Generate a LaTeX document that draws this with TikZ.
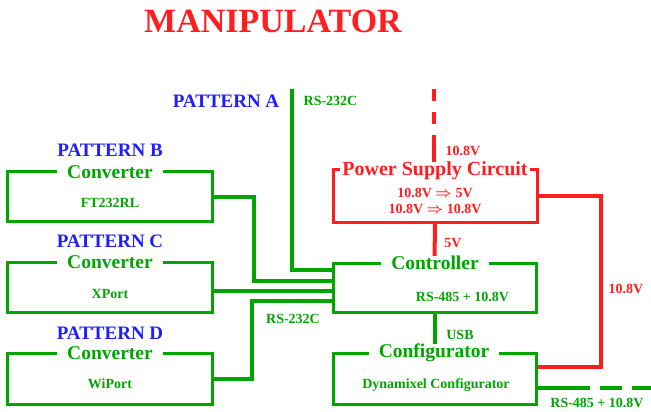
\documentclass[tikz,border=0pt]{standalone}
\usepackage{fontspec}
\setmainfont{Liberation Serif}
\usetikzlibrary{positioning}
\definecolor{wgreen}{RGB}{0,165,0}
\definecolor{wred}{RGB}{255,30,30}
\definecolor{wblue}{RGB}{30,30,255}

\begin{document}
\begin{tikzpicture}[
    x=1pt, y=-1pt,
    box/.style={draw=wgreen, line width=3pt, minimum width=205pt, minimum height=50pt, inner sep=0pt},
    pbox/.style={box, draw=wred},
    head/.style={fill=white, text=wgreen, font=\fontsize{19.5}{22}\selectfont\bfseries, inner xsep=10pt, inner ysep=0pt},
    phead/.style={head, text=wred, inner xsep=2pt, font=\fontsize{20}{22}\selectfont\bfseries},
    pattern/.style={text=wblue, font=\fontsize{19}{22}\selectfont\bfseries, inner sep=0pt},
    tag/.style={text=wgreen, font=\fontsize{14}{16}\selectfont\bfseries\boldmath, inner sep=0pt, align=center},
    ptag/.style={tag, text=wred},
    wire/.style={draw=wgreen, line width=4pt},
    pwire/.style={draw=wred, line width=4pt}
]
\useasboundingbox (0,0) rectangle (651,412);

\node[text=wred, font=\fontsize{34}{38}\selectfont\bfseries, inner sep=0pt] (title) at (273,21) {MANIPULATOR};

\node[box] (convB) at (109.5,196.5) {};
\node[box] (convC) at (109.5,287) {};
\node[box, minimum height=51pt] (convD) at (109.5,379) {};
\node[box, minimum width=203pt, minimum height=49pt] (ctrl) at (434.5,287.5) {};
\node[box, minimum width=203pt, minimum height=51pt] (conf) at (434.5,378.5) {};
\node[pbox, minimum width=204pt, minimum height=53pt] (psu) at (435,195.5) {};

\coordinate (inA) at ([yshift=-8pt]ctrl.north west);
\coordinate (inB) at ([yshift=-19pt]ctrl.north west);
\coordinate (inC) at ([yshift=-29pt]ctrl.north west);
\coordinate (inD) at ([yshift=-39pt]ctrl.north west);
\coordinate (srcA) at (292,89);
\coordinate (srcP) at (433.5,89);
\coordinate (busOut) at (652,388);

\draw[wire] (srcA) |- (inA);
\draw[wire] (convB.east) -- ++(40,0) |- (inB);
\draw[wire] (convC.east |- inC) -- (inC);
\draw[wire] (convD.east) -- ++(38,0) |- (inD);
\draw[wire] (ctrl.south) -- (conf.north);
\draw[wire, dash pattern=on 52pt off 10pt on 22pt off 10pt on 40pt off 1pt] (conf.east |- busOut) -- (busOut);
\draw[pwire] (psu.south) -- (ctrl.north);
\draw[pwire] (psu.east) -- ++(62,0) |- ([yshift=11.5pt]conf.east);

\node[pattern] (patA) at (226,101.5) {PATTERN A};
\node[pattern] (patB) at (110,150.5) {PATTERN B};
\node[pattern] (patC) at (110,241) {PATTERN C};
\node[pattern] (patD) at (110,333) {PATTERN D};

\node[head] (headB) at (110,172) {Converter};
\node[head] (headC) at (110,262) {Converter};
\node[head] (headD) at (110,353) {Converter};
\node[head] (headCtrl) at (435,263) {Controller};
\node[head] (headConf) at (434,353) {Configurator};
\node[phead] (headPsu) at (435,171) {Power Supply Circuit};

\draw[pwire, dash pattern=on 12pt off 11pt on 12pt off 11pt on 60pt off 1pt] (srcP) -- (srcP |- headPsu.north);

\node[tag] (chipB) at (110,202.5) {FT232RL};
\node[tag] (chipC) at (110,294) {XPort};
\node[tag] (chipD) at (110,384) {WiPort};
\node[tag] (ctrlOut) at (462.5,297) {RS-485 + 10.8V};
\node[tag] (confName) at (436,385) {Dynamixel Configurator};
\node[ptag] (psuRule) at (435,200.5) {10.8V $\Rightarrow$ 5V\\10.8V $\Rightarrow$ 10.8V};

\node[tag] (rsA) at (330.5,100.5) {RS-232C};
\node[tag] (rsD) at (293,319) {RS-232C};
\node[tag] (usb) at (460,335) {USB};
\node[tag] (busTag) at (597,403) {RS-485 + 10.8V};
\node[ptag] (vIn) at (463,151) {10.8V};
\node[ptag] (v5) at (453,243) {5V};
\node[ptag] (vLoop) at (626,289) {10.8V};
\end{tikzpicture}
\end{document}
